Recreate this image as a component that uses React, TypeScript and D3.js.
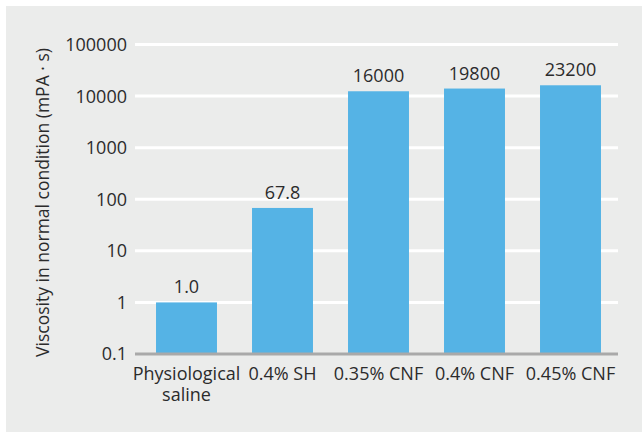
import React from "react";
import * as d3 from "d3";

const categories: string[][] = [["Physiological", "saline"], ["0.4% SH"], ["0.35% CNF"], ["0.4% CNF"], ["0.45% CNF"]];
const barValues: number[] = [1.0, 67.8, 12400, 14000, 16200];
const valueLabels: string[] = ["1.0", "67.8", "16000", "19800", "23200"];
const yTicks: number[] = [0.1, 1, 10, 100, 1000, 10000, 100000];
const yTickLabels: string[] = ["0.1", "1", "10", "100", "1000", "10000", "100000"];
const yTitle = "Viscosity in normal condition (mPA · s)";

const W = 642;
const H = 432;
const FONT = "'Open Sans', sans-serif";
const FS = 18;

export default function App() {
  const x = d3
    .scaleBand<number>()
    .domain(categories.map((_, i) => i))
    .range([138.5, 618.5])
    .paddingInner(0.365)
    .paddingOuter(0.1825);
  const y = d3.scaleLog().domain([0.1, 100000]).range([354, 44.5]);
  const gridX0 = 135;
  const gridX1 = 618;
  const cx = (i: number) => (x(i) as number) + x.bandwidth() / 2;

  return (
    <svg
      width={W}
      height={H}
      style={{ position: "absolute", left: 0, top: 0, display: "block" }}
      fontFamily={FONT}
    >
      <rect x={0} y={0} width={W} height={H} fill="#ffffff" />
      <rect x={6} y={6} width={W - 6} height={H - 6} fill="#ebeceb" />
      {yTicks.slice(1).map((t) => (
        <line key={t} x1={gridX0} x2={gridX1} y1={y(t)} y2={y(t)} stroke="#ffffff" strokeWidth={3} />
      ))}
      {barValues.map((v, i) => (
        <rect
          key={i}
          x={x(i)}
          y={y(v)}
          width={x.bandwidth()}
          height={y(0.1) - y(v)}
          fill="#55b3e5"
        />
      ))}
      <line x1={gridX0} x2={gridX1} y1={y(0.1)} y2={y(0.1)} stroke="#a9a9a9" strokeWidth={3} />
      {yTicks.map((t, i) => (
        <text
          key={t}
          x={127}
          y={y(t)}
          dy="0.36em"
          textAnchor="end"
          fontSize={FS}
          fill="#2b2b2b"
        >
          {yTickLabels[i]}
        </text>
      ))}
      {barValues.map((v, i) => (
        <text
          key={i}
          x={cx(i)}
          y={y(v) - 9}
          textAnchor="middle"
          fontSize={FS}
          fill="#2b2b2b"
        >
          {valueLabels[i]}
        </text>
      ))}
      {categories.map((lines, i) =>
        lines.map((l, j) => (
          <text
            key={`${i}-${j}`}
            x={cx(i)}
            y={380 + j * 21}
            textAnchor="middle"
            fontSize={FS}
            fill="#2b2b2b"
          >
            {l}
          </text>
        ))
      )}
      <text
        transform={`translate(49,202.5) rotate(-90)`}
        textAnchor="middle"
        fontSize={17.5}
        fill="#2b2b2b"
      >
        {yTitle}
      </text>
    </svg>
  );
}
